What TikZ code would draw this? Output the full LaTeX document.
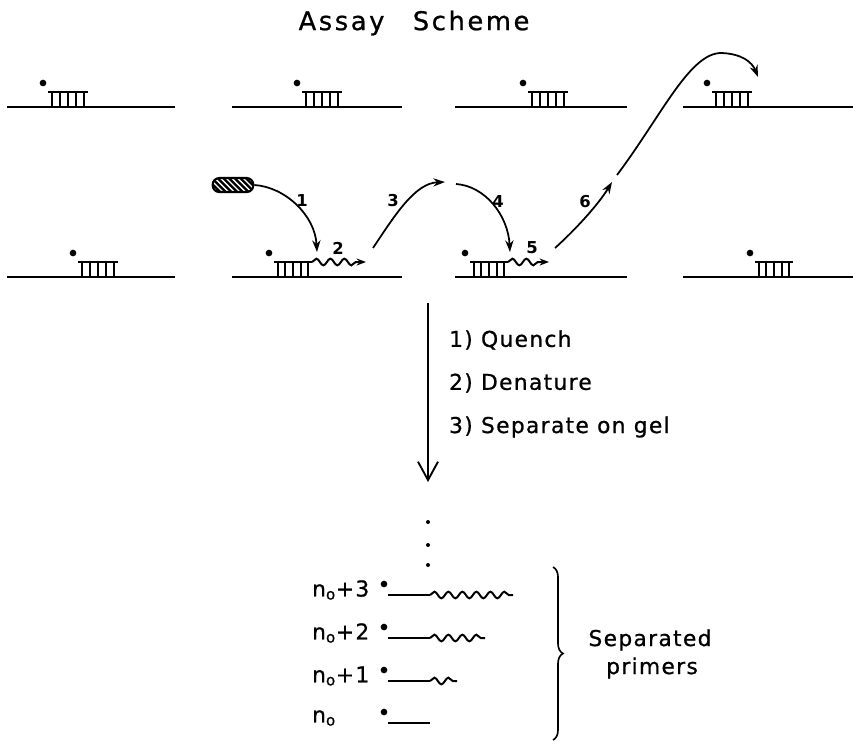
\documentclass[tikz,border=0pt]{standalone}
\usepackage{fontspec}
\setmainfont{DejaVu Sans}
\usetikzlibrary{arrows.meta,decorations.pathmorphing,decorations.pathreplacing}
\newcommand{\bodyfont}{\fontsize{18.6}{22}\selectfont\addfontfeature{LetterSpace=6,FakeBold=0.8}}

\begin{document}
\begin{tikzpicture}[x=0.03cm,y=-0.03cm,
        strand/.style={line width=2pt},
        rung/.style={line width=1.6pt},
        move/.style={line width=1.5pt,-{Stealth[length=10pt,width=7pt]}},
        tail/.style={line width=1.7pt,decorate,
            decoration={snake,amplitude=0.1cm,segment length=0.42cm}},
        steplabel/.style={font=\fontsize{14}{16}\selectfont\bfseries},
        worktext/.style={anchor=west,font=\bodyfont}]
    \useasboundingbox (0,0) rectangle (853,744);

    \node (title) at (414,23) {\fontsize{22}{26}\selectfont\addfontfeature{LetterSpace=10,FakeBold=0.8}Assay\hspace{1.1em}Scheme};

    % template strands, top and bottom rows
    \foreach \a/\b in {7/175,232/402,455/627,683/853}{
        \draw[strand] (\a,107) -- (\b,107);
        \draw[strand] (\a,277) -- (\b,277);
    }
    % primers annealed to the templates
    \foreach \x/\y/\l in {48/107/40,302/107/40,528/107/40,712/107/40,78/277/40,274/277/38,470/277/38,755/277/38}{
        \draw[strand] (\x,\y-15) -- (\x+\l,\y-15);
        \foreach \r in {0.1,0.3,0.5,0.7,0.9}
            \draw[rung] (\x+\r*\l,\y-15) -- (\x+\r*\l,\y);
        \fill (\x-5,\y-24) circle (0.1cm);
    }

    % polymerase
    \node (enzyme) [draw, line width=1.8pt, rounded corners=0.2cm, minimum width=1.22cm,
        minimum height=0.42cm, inner sep=0pt,
        path picture={
            \fill (path picture bounding box.south west) rectangle (path picture bounding box.north east);
            \foreach \i in {-5,...,5}
                \draw[white,line width=1.2pt] ([xshift=\i*0.17cm]path picture bounding box.center)
                    ++(-0.25cm,0.25cm) -- ++(0.5cm,-0.5cm);
        }] at (233,185) {};

    % extended primers
    \draw[tail,decoration={post length=0.25cm},-{Stealth[length=8pt,width=6pt]}] (312,262) -- (366,262);
    \draw[tail,decoration={post length=0.25cm},-{Stealth[length=8pt,width=6pt]}] (508,262) -- (549,262);

    % binding, extension and release steps
    \coordinate (e1) at (317,252);
    \coordinate (s3) at (373,248);
    \coordinate (e3) at (445,182);
    \coordinate (s4) at (456,184);
    \coordinate (e4) at (510,252);
    \coordinate (s6) at (555,248);
    \coordinate (e6) at (612,182);
    \coordinate (s7) at (617,175);
    \coordinate (e7) at (758,77);
    \draw[move] (enzyme.east) .. controls (285,187) and (315,215) .. (e1);
    \draw[move] (s3) .. controls (395,215) and (415,183) .. (e3);
    \draw[move] (s4) .. controls (485,186) and (508,215) .. (e4);
    \draw[move] (s6) .. controls (575,230) and (598,205) .. (e6);
    \draw[move] (s7) .. controls (662,115) and (690,52) .. (722,53)
        .. controls (742,54) and (752,62) .. (e7);
    \node[steplabel] (l1) at (302,201) {1};
    \node[steplabel] (l2) at (338,248) {2};
    \node[steplabel] (l3) at (393,201) {3};
    \node[steplabel] (l4) at (498,202) {4};
    \node[steplabel] (l5) at (532,248) {5};
    \node[steplabel] (l6) at (585,202) {6};

    % work-up
    \coordinate (wtop) at (428,303);
    \coordinate (wbot) at (428,482);
    \draw[line width=1.6pt,-{Straight Barb[length=0.55cm,width=0.6cm]}] (wtop) -- (wbot);
    \node[worktext] (w1) at (445,340) {1) Quench};
    \node[worktext] (w2) at (445,383) {2) Denature};
    \node[worktext] (w3) at (445,427) {3) Separate on gel};

    % gel ladder
    \foreach \y in {522,545,565}
        \fill (428,\y) circle (0.06cm);
    \foreach \y/\n/\w in {595/3/513,638/2/485,681/1/457}{
        \node[worktext] at (308,\y-5) {n\textsubscript{o}+\n};
        \fill (384,\y-11) circle (0.1cm);
        \draw[line width=1.7pt] (388,\y) -- (430,\y);
        \draw[tail] (430,\y) -- (\w,\y);
    }
    \node[worktext] (n0) at (308,718) {n\textsubscript{o}};
    \fill (384,712) circle (0.1cm);
    \draw[line width=1.7pt] (388,723) -- (430,723);

    \draw[line width=1.4pt,decorate,decoration={brace,amplitude=0.3cm}] (553,567) -- (553,740);
    \node[font=\bodyfont] (sep) at (650,640) {Separated};
    \node[font=\bodyfont] (prim) at (652,668) {primers};
\end{tikzpicture}
\end{document}
